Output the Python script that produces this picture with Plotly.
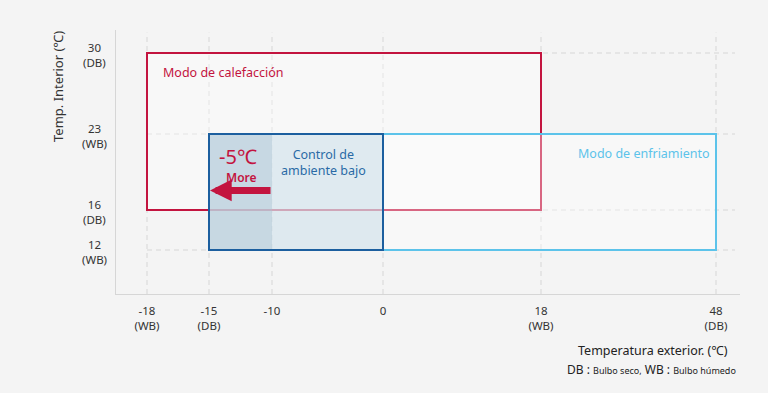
import numpy as np
import plotly.graph_objects as go

# ---- data ----
x_ticks = [-18, -15, -10, 0, 18, 48]
x_tick_labels = ["-18<br>(WB)", "-15<br>(DB)", "-10", "0", "18<br>(WB)", "48<br>(DB)"]
y_ticks = [30, 23, 16, 12]
y_tick_labels = ["30<br>(DB)", "23<br>(WB)", "16<br>(DB)", "12<br>(WB)"]

heating_x = [-18, 18]
heating_y = [16, 30]
cooling_x = [-15, 48]
cooling_y = [12, 23]
low_ambient_x = [-15, 0]
low_ambient_y = [12, 23]
extended_x = [-15, -10]
arrow_from_to = [-10, -15]
arrow_y = 17.8

# ---- scale (tick positions along the axes; uneven spacing as in the original) ----
X_POS = [147, 209, 272, 383, 541, 716]
Y_POS = [53, 134, 210, 250]


def sx(v):
    return float(np.interp(v, x_ticks, X_POS))


def sy(v):
    return float(np.interp(v, y_ticks[::-1], Y_POS[::-1]))


RED = "#c3143f"
LBLUE = "#5cc3ea"
DBLUE = "#1c5f9f"
BG = "#f4f4f4"
GRID = "#d6d6d6"
FONT = "Noto Sans, DejaVu Sans"

W, H = 768, 393
ML, MR, MT, MB = 116, 28, 30, 99
pw, ph = W - ML - MR, H - MT - MB

fig = go.Figure()
fig.add_trace(go.Scatter(x=[sx(v) for v in x_ticks], y=[sy(30)] * len(x_ticks),
                         mode="markers", marker=dict(opacity=0), hoverinfo="skip",
                         showlegend=False))

shapes = []
# grid
for v in x_ticks:
    shapes.append(dict(type="line", xref="x", yref="paper", x0=sx(v), x1=sx(v), y0=0, y1=0.99,
                       line=dict(color=GRID, width=1, dash="5px,4px"), layer="below"))
for v in y_ticks:
    shapes.append(dict(type="line", xref="x", yref="y", x0=sx(-18), x1=735, y0=sy(v), y1=sy(v),
                       line=dict(color=GRID, width=1, dash="5px,4px"), layer="below"))
# heating
shapes.append(dict(type="rect", xref="x", yref="y", x0=sx(heating_x[0]), x1=sx(heating_x[1]),
                   y0=sy(heating_y[0]), y1=sy(heating_y[1]),
                   fillcolor="rgba(255,255,255,0.35)", line=dict(color=RED, width=2), layer="above"))
# cooling
shapes.append(dict(type="rect", xref="x", yref="y", x0=sx(cooling_x[0]), x1=sx(cooling_x[1]),
                   y0=sy(cooling_y[0]), y1=sy(cooling_y[1]),
                   fillcolor="rgba(255,255,255,0.35)", line=dict(color=LBLUE, width=2), layer="above"))
# low ambient control
shapes.append(dict(type="rect", xref="x", yref="y", x0=sx(low_ambient_x[0]), x1=sx(low_ambient_x[1]),
                   y0=sy(low_ambient_y[0]), y1=sy(low_ambient_y[1]),
                   fillcolor="rgba(200,220,232,0.55)", line=dict(width=0), layer="above"))
shapes.append(dict(type="rect", xref="x", yref="y", x0=sx(extended_x[0]), x1=sx(extended_x[1]),
                   y0=sy(low_ambient_y[0]), y1=sy(low_ambient_y[1]),
                   fillcolor="rgba(170,195,210,0.45)", line=dict(width=0), layer="above"))
shapes.append(dict(type="rect", xref="x", yref="y", x0=sx(low_ambient_x[0]), x1=sx(low_ambient_x[1]),
                   y0=sy(low_ambient_y[0]), y1=sy(low_ambient_y[1]),
                   fillcolor="rgba(0,0,0,0)", line=dict(color=DBLUE, width=2), layer="above"))

annotations = [
    dict(x=sx(heating_x[0]) + 14, y=sy(30) + 19, xref="x", yref="y", text="Modo de calefacción",
         showarrow=False, xanchor="left", yanchor="middle", font=dict(color=RED, size=12.5, family=FONT)),
    dict(x=sx(cooling_x[1]) - 4, y=sy(23) + 19, xref="x", yref="y", text="Modo de enfriamiento",
         showarrow=False, xanchor="right", yanchor="middle", font=dict(color=LBLUE, size=12.5, family=FONT)),
    dict(x=(sx(-10) + sx(0)) / 2 - 4, y=sy(23) + 28, xref="x", yref="y",
         text="Control de<br>ambiente bajo", showarrow=False, xanchor="center", yanchor="middle",
         font=dict(color="#2a6aa6", size=12.5, family=FONT)),
    dict(x=(sx(-15) + sx(-10)) / 2 - 3, y=sy(23) + 22, xref="x", yref="y", text="-5℃",
         showarrow=False, xanchor="center", yanchor="middle", font=dict(color=RED, size=20, family=FONT)),
    dict(x=(sx(-15) + sx(-10)) / 2 + 1, y=sy(23) + 43, xref="x", yref="y", text="More",
         showarrow=False, xanchor="center", yanchor="middle",
         font=dict(color=RED, size=12, family=FONT, weight=600)),
    dict(x=sx(arrow_from_to[1]) + 1, y=sy(arrow_y), ax=sx(arrow_from_to[0]), ay=sy(arrow_y),
         xref="x", yref="y", axref="x", ayref="y", text="", showarrow=True,
         arrowhead=2, arrowsize=0.62, arrowwidth=7, arrowcolor=RED, standoff=0, startstandoff=0),
]
# y tick labels (centred lines, as in the original)
for v, t in zip(y_ticks, y_tick_labels):
    annotations.append(dict(x=(94 - ML) / pw, xref="paper", y=sy(v) + 2, yref="y", text=t,
                            showarrow=False, xanchor="center", yanchor="middle", align="center",
                            font=dict(color="#333", size=11.5, family=FONT)))

titles = [
    dict(x=58, y=87, text="Temp. Interior (℃)", textangle=-90,
         showarrow=False, xanchor="center", yanchor="middle",
         font=dict(color="#333", size=13, family=FONT)),
    dict(x=730, y=350, text="Temperatura exterior. (℃)", showarrow=False, xanchor="right",
         yanchor="middle", font=dict(color="#222", size=12.5, family=FONT)),
    dict(x=738, y=369, text="DB : <span style='font-size:9px'>Bulbo seco,</span> WB : <span style='font-size:9px'>Bulbo húmedo</span>",
         showarrow=False, xanchor="right", yanchor="middle", font=dict(color="#222", size=12, family=FONT)),
]
for a in titles:
    a["xref"] = "paper"
    a["yref"] = "paper"
    a["x"] = (a["x"] - ML) / pw
    a["y"] = 1 - (a["y"] - MT) / ph
annotations += titles

fig.update_layout(
    width=W, height=H, margin=dict(l=ML, r=MR, t=MT, b=MB),
    paper_bgcolor=BG, plot_bgcolor=BG, showlegend=False,
    shapes=shapes, annotations=annotations,
    font=dict(family=FONT, color="#333", size=11.5),
    xaxis=dict(range=[ML, W - MR], tickvals=[sx(v) for v in x_ticks], ticktext=x_tick_labels,
               showgrid=False, zeroline=False, showline=True, linecolor=GRID, linewidth=1,
               ticks="", ticklabelstandoff=6, fixedrange=True),
    yaxis=dict(range=[H - MB, MT], tickvals=[sy(v) for v in y_ticks], showticklabels=False,
               showgrid=False, zeroline=False, showline=True, linecolor=GRID, linewidth=1,
               ticks="", fixedrange=True),
)

fig.write_html("out.html", config={"displayModeBar": False},
               post_script="document.body.style.margin='0';document.body.style.background='#f4f4f4';")
